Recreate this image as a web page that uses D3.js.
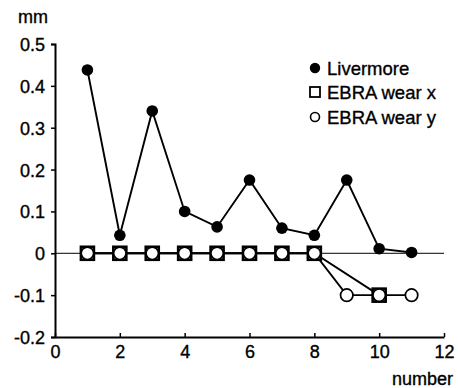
<!DOCTYPE html>
<html><head><meta charset="utf-8">
<script src="https://cdn.jsdelivr.net/npm/d3@7"></script>
<style>body{margin:0;background:#fff}svg{display:block}text{font-family:"Liberation Sans",Arial,sans-serif;fill:#000;stroke:#000;stroke-width:0.35px}</style>
</head><body><div id="c"></div>
<script>
const livermoreX = [1,2,3,4,5,6,7,8,9,10,11];
const livermoreY = [0.438,0.043,0.34,0.10,0.063,0.175,0.06,0.043,0.175,0.011,0.002];
const wearXX = [1,2,3,4,5,6,7,8,10];
const wearXY = [0,0,0,0,0,0,0,0,-0.1];
const wearYX = [1,2,3,4,5,6,7,8,9,10,11];
const wearYY = [0,0,0,0,0,0,0,0,-0.1,-0.1,-0.1];
const xTicks = [0,2,4,6,8,10,12];
const yTicks = [-0.2,-0.1,0,0.1,0.2,0.3,0.4,0.5];
const legendLabels = ["Livermore","EBRA wear x","EBRA wear y"];

const W=458,H=388;
const svg=d3.select("#c").append("svg").attr("width",W).attr("height",H);
const x=d3.scaleLinear().domain([0,12]).range([55,444]);
const y=d3.scaleLinear().domain([-0.2,0.5]).range([337,44]);

svg.append("line").attr("x1",x(0)).attr("x2",x(12)).attr("y1",y(0)).attr("y2",y(0)).attr("stroke","#000").attr("stroke-width",1);

const fmtY=d=>d===0?"0":d.toFixed(1);
const yAx=svg.append("g").attr("transform",`translate(${x(0)},0)`)
  .call(d3.axisLeft(y).tickValues(yTicks).tickSize(4).tickPadding(6).tickFormat(fmtY));
yAx.select(".domain").attr("stroke-width",2);
yAx.selectAll(".tick line").attr("stroke-width",1.5);
yAx.selectAll("text").style("font-size","18px").attr("dy","0.36em");

const xAx=svg.append("g").attr("transform",`translate(0,${y(-0.2)})`)
  .call(d3.axisBottom(x).tickValues(xTicks).tickSizeInner(-4).tickSizeOuter(0).tickPadding(8).tickFormat(d3.format("d")));
xAx.select(".domain").attr("stroke-width",2);
xAx.selectAll(".tick line").attr("stroke-width",1.5);
xAx.selectAll("text").style("font-size","18px");

svg.append("text").attr("x",18).attr("y",23).style("font-size","18px").text("mm");
svg.append("text").attr("x",453).attr("y",385).attr("text-anchor","end").style("font-size","18px").text("number");

const line=d3.line().x(d=>x(d[0])).y(d=>y(d[1]));
const liv=livermoreX.map((v,i)=>[v,livermoreY[i]]);
const wx=wearXX.map((v,i)=>[v,wearXY[i]]);
const wy=wearYX.map((v,i)=>[v,wearYY[i]]);
[liv,wx,wy].forEach(d=>svg.append("path").datum(d).attr("d",line).attr("fill","none").attr("stroke","#000").attr("stroke-width",1.9));

svg.selectAll(".sq").data(wx).enter().append("rect")
  .attr("x",d=>x(d[0])-6.5).attr("y",d=>y(d[1])-6.5).attr("width",13).attr("height",13)
  .attr("fill","#fff").attr("stroke","#000").attr("stroke-width",2.6);
svg.selectAll(".oc").data(wy).enter().append("circle")
  .attr("cx",d=>x(d[0])).attr("cy",d=>y(d[1])).attr("r",6.2)
  .attr("fill","#fff").attr("stroke","#000").attr("stroke-width",1.7);
svg.selectAll(".fc").data(liv).enter().append("circle")
  .attr("cx",d=>x(d[0])).attr("cy",d=>y(d[1])).attr("r",5.8).attr("fill","#000");

const lg=svg.append("g");
const ly=[68,92,117];
lg.append("circle").attr("cx",315).attr("cy",ly[0]).attr("r",5.2).attr("fill","#000");
lg.append("rect").attr("x",310).attr("y",ly[1]-5).attr("width",10).attr("height",10).attr("fill","#fff").attr("stroke","#000").attr("stroke-width",1.8);
lg.append("circle").attr("cx",315).attr("cy",ly[2]).attr("r",4.5).attr("fill","#fff").attr("stroke","#000").attr("stroke-width",1.6);
legendLabels.forEach((t,i)=>lg.append("text").attr("x",327).attr("y",ly[i]).attr("dy","0.36em").style("font-size","18.5px").text(t));
</script></body></html>
